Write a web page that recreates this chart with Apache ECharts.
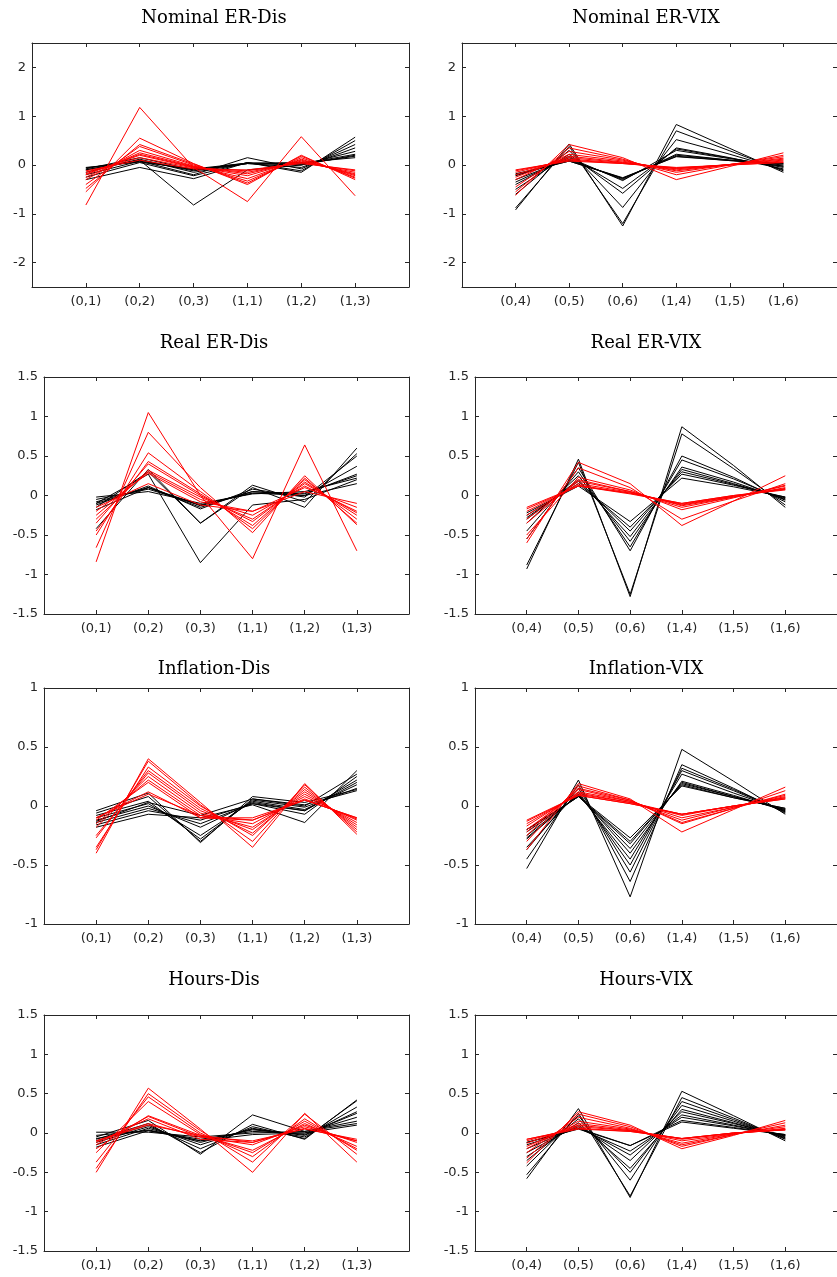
<!DOCTYPE html>
<html>
<head>
<meta charset="utf-8">
<script src="https://cdn.jsdelivr.net/npm/echarts@6/dist/echarts.min.js"></script>
<style>
html,body{margin:0;padding:0;background:#fff;}
#chart{width:837px;height:1277px;}
</style>
</head>
<body>
<div id="chart"></div>
<script>
// ---------------- DATA ----------------
const catsDis = ['(0,1)', '(0,2)', '(0,3)', '(1,1)', '(1,2)', '(1,3)'];
const catsVix = ['(0,4)', '(0,5)', '(0,6)', '(1,4)', '(1,5)', '(1,6)'];
const panelTitles = ['Nominal ER-Dis', 'Nominal ER-VIX', 'Real ER-Dis', 'Real ER-VIX',
                     'Inflation-Dis', 'Inflation-VIX', 'Hours-Dis', 'Hours-VIX'];
const yTicksRow1 = [-2, -1, 0, 1, 2];
const yTicksRow2 = [-1.5, -1, -0.5, 0, 0.5, 1, 1.5];
const yTicksRow3 = [-1, -0.5, 0, 0.5, 1];
const yTicksRow4 = [-1.5, -1, -0.5, 0, 0.5, 1, 1.5];

const nominalDisBlack = [
  [-0.10, 0.10, -0.82, -0.10, 0.00, 0.20],
  [-0.30, -0.05, -0.28, 0.05, -0.15, 0.57],
  [-0.25, 0.05, -0.22, 0.05, -0.12, 0.50],
  [-0.20, 0.08, -0.20, 0.15, -0.08, 0.42],
  [-0.15, 0.12, -0.15, 0.03, -0.05, 0.35],
  [-0.10, 0.10, -0.12, 0.03, 0.00, 0.28],
  [-0.08, 0.15, -0.10, 0.04, 0.02, 0.22],
  [-0.06, 0.08, -0.10, 0.03, 0.02, 0.18],
  [-0.05, 0.06, -0.08, 0.04, 0.05, 0.15]
];
const nominalDisRed = [
  [-0.82, 1.18, -0.05, -0.75, 0.58, -0.63],
  [-0.55, 0.55, 0.03, -0.40, 0.20, -0.30],
  [-0.48, 0.42, 0.02, -0.37, 0.18, -0.27],
  [-0.40, 0.38, 0.00, -0.33, 0.15, -0.25],
  [-0.30, 0.30, -0.02, -0.28, 0.12, -0.22],
  [-0.25, 0.25, -0.03, -0.22, 0.10, -0.20],
  [-0.20, 0.22, -0.04, -0.18, 0.08, -0.18],
  [-0.18, 0.20, -0.05, -0.15, 0.06, -0.15],
  [-0.15, 0.15, -0.06, -0.12, 0.05, -0.12],
  [-0.12, 0.10, -0.08, -0.10, 0.03, -0.10]
];
const nominalVixBlack = [
  [-0.92, 0.43, -1.25, 0.83, 0.34, -0.15],
  [-0.88, 0.38, -1.20, 0.70, 0.29, -0.12],
  [-0.60, 0.30, -0.87, 0.52, 0.22, -0.10],
  [-0.50, 0.22, -0.58, 0.35, 0.15, -0.08],
  [-0.40, 0.18, -0.48, 0.33, 0.14, -0.05],
  [-0.35, 0.15, -0.32, 0.30, 0.13, -0.03],
  [-0.30, 0.12, -0.30, 0.22, 0.10, -0.02],
  [-0.22, 0.10, -0.28, 0.20, 0.10, 0.00],
  [-0.20, 0.08, -0.27, 0.18, 0.09, 0.02],
  [-0.18, 0.08, -0.26, 0.17, 0.09, 0.03]
];
const nominalVixRed = [
  [-0.62, 0.42, 0.15, -0.30, -0.03, 0.25],
  [-0.55, 0.35, 0.12, -0.20, 0.00, 0.20],
  [-0.45, 0.28, 0.10, -0.15, 0.01, 0.17],
  [-0.30, 0.22, 0.08, -0.12, 0.01, 0.14],
  [-0.25, 0.18, 0.06, -0.10, 0.01, 0.12],
  [-0.20, 0.15, 0.05, -0.08, 0.01, 0.10],
  [-0.15, 0.12, 0.04, -0.07, 0.01, 0.08],
  [-0.12, 0.10, 0.03, -0.06, 0.00, 0.06],
  [-0.10, 0.08, 0.03, -0.05, 0.00, 0.05]
];
const realDisBlack = [
  [-0.10, 0.27, -0.85, -0.12, -0.05, 0.20],
  [-0.42, 0.33, -0.35, 0.10, -0.15, 0.60],
  [-0.15, 0.30, -0.35, 0.13, -0.08, 0.53],
  [-0.12, 0.12, -0.17, 0.08, -0.02, 0.50],
  [-0.10, 0.10, -0.15, 0.05, 0.00, 0.37],
  [-0.08, 0.10, -0.13, 0.05, 0.02, 0.27],
  [-0.05, 0.08, -0.12, 0.03, 0.03, 0.25],
  [-0.02, 0.05, -0.10, 0.02, 0.05, 0.22],
  [-0.18, 0.10, -0.12, 0.03, 0.00, 0.15]
];
const realDisRed = [
  [-0.84, 1.05, 0.00, -0.80, 0.64, -0.70],
  [-0.66, 0.80, 0.10, -0.47, 0.25, -0.37],
  [-0.50, 0.54, 0.05, -0.42, 0.22, -0.35],
  [-0.45, 0.43, 0.02, -0.38, 0.20, -0.30],
  [-0.35, 0.40, 0.00, -0.33, 0.17, -0.25],
  [-0.30, 0.32, -0.02, -0.30, 0.15, -0.22],
  [-0.25, 0.30, -0.05, -0.25, 0.12, -0.20],
  [-0.20, 0.28, -0.08, -0.20, 0.10, -0.15],
  [-0.15, 0.15, -0.12, -0.20, 0.05, -0.10]
];
const realVixBlack = [
  [-0.93, 0.46, -1.28, 0.87, 0.38, -0.15],
  [-0.88, 0.42, -1.25, 0.78, 0.34, -0.12],
  [-0.55, 0.35, -0.70, 0.50, 0.23, -0.08],
  [-0.45, 0.30, -0.65, 0.45, 0.21, -0.06],
  [-0.35, 0.25, -0.58, 0.36, 0.17, -0.05],
  [-0.30, 0.20, -0.52, 0.33, 0.15, -0.04],
  [-0.28, 0.18, -0.45, 0.30, 0.14, -0.03],
  [-0.25, 0.15, -0.40, 0.27, 0.13, -0.02],
  [-0.22, 0.12, -0.33, 0.22, 0.11, -0.02]
];
const realVixRed = [
  [-0.60, 0.42, 0.15, -0.38, -0.07, 0.25],
  [-0.55, 0.35, 0.10, -0.30, -0.07, 0.15],
  [-0.50, 0.23, 0.07, -0.18, -0.03, 0.13],
  [-0.35, 0.20, 0.05, -0.15, -0.02, 0.12],
  [-0.30, 0.18, 0.05, -0.13, -0.02, 0.10],
  [-0.25, 0.15, 0.04, -0.12, -0.01, 0.09],
  [-0.20, 0.13, 0.03, -0.11, -0.01, 0.08],
  [-0.17, 0.12, 0.03, -0.10, 0.00, 0.08],
  [-0.15, 0.12, 0.02, -0.10, 0.00, 0.07]
];
const inflDisBlack = [
  [-0.04, 0.11, -0.31, 0.08, 0.03, 0.14],
  [-0.06, 0.08, -0.30, 0.06, 0.01, 0.13],
  [-0.08, 0.04, -0.28, 0.05, -0.01, 0.15],
  [-0.10, 0.02, -0.25, 0.04, -0.03, 0.18],
  [-0.12, 0.00, -0.18, 0.03, -0.04, 0.20],
  [-0.14, -0.02, -0.15, 0.02, -0.04, 0.22],
  [-0.16, -0.04, -0.12, 0.02, -0.07, 0.25],
  [-0.18, -0.07, -0.10, 0.01, -0.14, 0.30],
  [-0.13, 0.03, -0.08, 0.06, 0.00, 0.27]
];
const inflDisRed = [
  [-0.40, 0.40, 0.03, -0.35, 0.19, -0.24],
  [-0.37, 0.38, 0.01, -0.30, 0.18, -0.22],
  [-0.35, 0.33, 0.00, -0.25, 0.16, -0.20],
  [-0.27, 0.30, -0.02, -0.23, 0.14, -0.18],
  [-0.25, 0.28, -0.04, -0.20, 0.12, -0.16],
  [-0.18, 0.25, -0.06, -0.18, 0.10, -0.14],
  [-0.15, 0.22, -0.08, -0.15, 0.08, -0.12],
  [-0.12, 0.20, -0.10, -0.12, 0.05, -0.10],
  [-0.10, 0.12, -0.10, -0.10, 0.05, -0.10],
  [-0.10, 0.10, -0.08, -0.12, 0.06, -0.11]
];
const inflVixBlack = [
  [-0.53, 0.22, -0.77, 0.48, 0.21, -0.07],
  [-0.45, 0.18, -0.64, 0.35, 0.15, -0.06],
  [-0.37, 0.15, -0.56, 0.32, 0.14, -0.05],
  [-0.35, 0.12, -0.50, 0.30, 0.13, -0.05],
  [-0.28, 0.10, -0.45, 0.27, 0.11, -0.04],
  [-0.27, 0.10, -0.40, 0.21, 0.09, -0.04],
  [-0.25, 0.09, -0.36, 0.20, 0.08, -0.03],
  [-0.22, 0.08, -0.32, 0.19, 0.08, -0.03],
  [-0.20, 0.08, -0.30, 0.18, 0.07, -0.02],
  [-0.20, 0.08, -0.27, 0.17, 0.07, -0.02]
];
const inflVixRed = [
  [-0.37, 0.19, 0.06, -0.22, -0.03, 0.16],
  [-0.30, 0.17, 0.05, -0.15, -0.02, 0.13],
  [-0.25, 0.15, 0.05, -0.14, -0.02, 0.10],
  [-0.22, 0.14, 0.04, -0.12, -0.01, 0.09],
  [-0.20, 0.12, 0.04, -0.10, -0.01, 0.08],
  [-0.17, 0.11, 0.03, -0.08, 0.00, 0.07],
  [-0.15, 0.10, 0.03, -0.07, 0.00, 0.07],
  [-0.13, 0.09, 0.02, -0.07, 0.00, 0.06],
  [-0.12, 0.09, 0.02, -0.07, 0.00, 0.06]
];
const hoursDisBlack = [
  [-0.05, 0.16, -0.27, 0.23, 0.02, 0.12],
  [-0.08, 0.12, -0.25, 0.11, -0.08, 0.42],
  [-0.10, 0.10, -0.20, 0.08, -0.07, 0.41],
  [-0.12, 0.08, -0.15, 0.06, -0.05, 0.33],
  [-0.15, 0.06, -0.12, 0.05, -0.03, 0.27],
  [-0.07, 0.04, -0.10, 0.04, -0.02, 0.25],
  [-0.03, 0.03, -0.08, 0.02, 0.00, 0.20],
  [0.01, 0.01, -0.05, 0.00, 0.02, 0.15],
  [-0.18, 0.03, -0.10, -0.02, 0.00, 0.10]
];
const hoursDisRed = [
  [-0.50, 0.57, 0.05, -0.50, 0.25, -0.37],
  [-0.45, 0.50, 0.03, -0.37, 0.24, -0.27],
  [-0.37, 0.46, 0.00, -0.30, 0.18, -0.22],
  [-0.25, 0.40, -0.02, -0.25, 0.15, -0.20],
  [-0.20, 0.22, -0.03, -0.22, 0.12, -0.17],
  [-0.15, 0.21, -0.05, -0.15, 0.10, -0.12],
  [-0.12, 0.18, -0.08, -0.12, 0.08, -0.10],
  [-0.10, 0.12, -0.05, -0.10, 0.05, -0.08],
  [-0.10, 0.10, -0.03, -0.12, 0.06, -0.10]
];
const hoursVixBlack = [
  [-0.58, 0.31, -0.82, 0.53, 0.22, -0.10],
  [-0.53, 0.25, -0.80, 0.45, 0.19, -0.08],
  [-0.42, 0.22, -0.60, 0.40, 0.17, -0.07],
  [-0.35, 0.18, -0.50, 0.35, 0.15, -0.06],
  [-0.30, 0.13, -0.45, 0.30, 0.13, -0.05],
  [-0.25, 0.10, -0.35, 0.27, 0.12, -0.04],
  [-0.20, 0.08, -0.28, 0.23, 0.10, -0.03],
  [-0.15, 0.06, -0.23, 0.20, 0.09, -0.03],
  [-0.12, 0.06, -0.16, 0.16, 0.07, -0.02],
  [-0.12, 0.05, -0.16, 0.14, 0.06, -0.02]
];
const hoursVixRed = [
  [-0.38, 0.27, 0.10, -0.20, -0.03, 0.16],
  [-0.32, 0.24, 0.08, -0.17, -0.02, 0.13],
  [-0.25, 0.20, 0.06, -0.15, -0.02, 0.10],
  [-0.20, 0.15, 0.05, -0.13, -0.01, 0.08],
  [-0.17, 0.12, 0.04, -0.10, -0.01, 0.06],
  [-0.13, 0.10, 0.03, -0.08, 0.00, 0.05],
  [-0.10, 0.08, 0.03, -0.07, 0.00, 0.04],
  [-0.08, 0.06, 0.02, -0.07, 0.00, 0.04],
  [-0.08, 0.05, 0.02, -0.07, 0.00, 0.04]
];

// ---------------- LAYOUT ----------------
const panels = [
  {title: panelTitles[0], cats: catsDis, black: nominalDisBlack, red: nominalDisRed, ymin: -2.5, ymax: 2.5, ticks: yTicksRow1},
  {title: panelTitles[1], cats: catsVix, black: nominalVixBlack, red: nominalVixRed, ymin: -2.5, ymax: 2.5, ticks: yTicksRow1},
  {title: panelTitles[2], cats: catsDis, black: realDisBlack, red: realDisRed, ymin: -1.5, ymax: 1.5, ticks: yTicksRow2},
  {title: panelTitles[3], cats: catsVix, black: realVixBlack, red: realVixRed, ymin: -1.5, ymax: 1.5, ticks: yTicksRow2},
  {title: panelTitles[4], cats: catsDis, black: inflDisBlack, red: inflDisRed, ymin: -1, ymax: 1, ticks: yTicksRow3},
  {title: panelTitles[5], cats: catsVix, black: inflVixBlack, red: inflVixRed, ymin: -1, ymax: 1, ticks: yTicksRow3},
  {title: panelTitles[6], cats: catsDis, black: hoursDisBlack, red: hoursDisRed, ymin: -1.5, ymax: 1.5, ticks: yTicksRow4},
  {title: panelTitles[7], cats: catsVix, black: hoursVixBlack, red: hoursVixRed, ymin: -1.5, ymax: 1.5, ticks: yTicksRow4}
];
const rowTops = [43, 377, 688, 1015];
const rowHeights = [244, 237, 236, 236];
const titleY = [13, 338, 664, 975];
const colLeft = [[32, 462], [44, 475], [44, 475], [44, 475]];
const colRight = 409; // left column box right edge
const rightColRight = 840;
const titleX = [209, 641];

const axisColor = '#262626';
const tickFont = {fontFamily: 'DejaVu Sans', fontSize: 13, color: axisColor};
const xPositions = [1, 2, 3, 4, 5, 6];

const grids = [], xAxes = [], yAxes = [], series = [], titles = [];
panels.forEach((p, i) => {
  const row = Math.floor(i / 2), col = i % 2;
  const left = colLeft[row][col];
  const right = col === 0 ? colRight : rightColRight;
  grids.push({left: left, top: rowTops[row], width: right - left, height: rowHeights[row], show: false, containLabel: false});
  titles.push({
    text: p.title, left: titleX[col], top: titleY[row], textAlign: 'center', textVerticalAlign: 'middle',
    textStyle: {fontFamily: 'DejaVu Serif', fontSize: 18, fontWeight: 'normal', color: '#000'}
  });
  const lineStyle = {color: axisColor, width: 1};
  const xBase = {
    type: 'value', gridIndex: i, min: 0, max: 7,
    axisLine: {show: true, onZero: false, lineStyle: lineStyle},
    axisTick: {show: true, inside: true, length: 4, customValues: xPositions, lineStyle: lineStyle},
    splitLine: {show: false}
  };
  xAxes.push(Object.assign({}, xBase, {
    position: 'bottom',
    axisLabel: Object.assign({show: true, margin: 8, customValues: xPositions,
      formatter: v => p.cats[Math.round(v) - 1] || ''}, tickFont)
  }));
  xAxes.push(Object.assign({}, xBase, {position: 'top', axisLabel: {show: false}}));
  const yBase = {
    type: 'value', gridIndex: i, min: p.ymin, max: p.ymax,
    axisLine: {show: true, onZero: false, lineStyle: lineStyle},
    axisTick: {show: true, inside: true, length: 4, customValues: p.ticks, lineStyle: lineStyle},
    splitLine: {show: false}
  };
  yAxes.push(Object.assign({}, yBase, {
    position: 'left',
    axisLabel: Object.assign({show: true, margin: 6, customValues: p.ticks,
      formatter: v => String(Math.round(v * 10) / 10)}, tickFont)
  }));
  yAxes.push(Object.assign({}, yBase, {position: 'right', axisLabel: {show: false}}));

  const addLines = (lines, color) => {
    lines.forEach(vals => {
      series.push({
        type: 'line', xAxisIndex: 2 * i, yAxisIndex: 2 * i,
        data: vals.map((v, j) => [xPositions[j], v]),
        symbol: 'none', silent: true,
        lineStyle: {color: color, width: 1},
        itemStyle: {color: color}
      });
    });
  };
  addLines(p.black, '#000000');
  addLines(p.red, '#ff0000');
});

const chart = echarts.init(document.getElementById('chart'), null, {renderer: 'canvas'});
chart.setOption({
  animation: false,
  backgroundColor: '#ffffff',
  title: titles,
  grid: grids,
  xAxis: xAxes,
  yAxis: yAxes,
  series: series
});
</script>
</body>
</html>
